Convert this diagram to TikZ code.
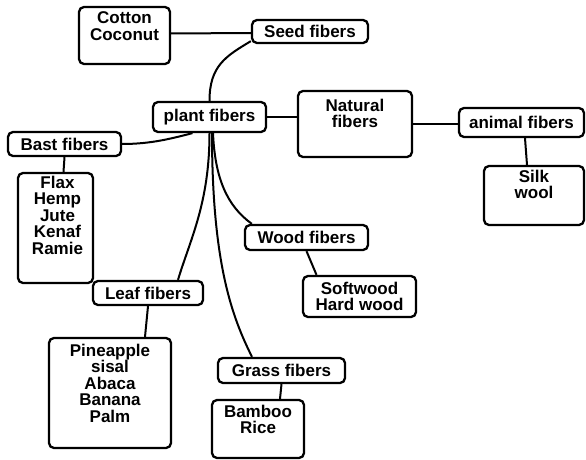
\documentclass[tikz,border=0pt]{standalone}
\usepackage{fontspec}
\setmainfont{Liberation Sans}
\begin{document}
\begin{tikzpicture}[x=1pt,y=-1pt,
  box/.style={draw, line width=2.3pt, rounded corners=5pt, inner sep=0pt,
    font=\fontsize{17pt}{16.5pt}\selectfont\bfseries, align=center},
  toptext/.style={anchor=north, inner sep=0pt, align=center,
    font=\fontsize{17pt}{16.5pt}\selectfont\bfseries},
  link/.style={line width=2pt}]
\useasboundingbox[fill=white] (0,0) rectangle (586,460);
% boxes
\node[box, minimum width=91pt, minimum height=57pt,
  label={[toptext, yshift=-6pt]north:Cotton\\Coconut}] (cotton) at (124.5,35.5) {};
\node[box, minimum width=116pt, minimum height=23pt] (seed) at (310,31.5) {Seed fibers};
\node[box, minimum width=113pt, minimum height=30pt] (plant) at (209.5,117) {plant fibers};
\node[box, minimum width=113pt, minimum height=24pt] (bast) at (64.5,144) {Bast fibers};
\node[box, minimum width=114pt, minimum height=66pt,
  label={[toptext, yshift=-9pt]north:Natural\\fibers}] (natural) at (355,124) {};
\node[box, minimum width=125pt, minimum height=29pt] (animal) at (521.5,122.5) {animal fibers};
\node[box, minimum width=100pt, minimum height=59pt,
  label={[toptext, yshift=-5pt]north:Silk\\wool}] (silk) at (534,195.5) {};
\node[box, minimum width=75pt, minimum height=110pt,
  label={[toptext, yshift=-4pt, xshift=2pt]north:Flax\\Hemp\\Jute\\Kenaf\\Ramie}] (flax) at (55.5,228) {};
\node[box, minimum width=123pt, minimum height=25pt] (wood) at (306.5,237.5) {Wood fibers};
\node[box, minimum width=113pt, minimum height=41pt] (soft) at (359.5,296.5) {Softwood\\Hard wood};
\node[box, minimum width=110pt, minimum height=24pt] (leaf) at (148,293) {Leaf fibers};
\node[box, minimum width=122pt, minimum height=110pt,
  label={[toptext, yshift=-7pt]north:Pineapple\\sisal\\Abaca\\Banana\\Palm}] (pine) at (110,393) {};
\node[box, minimum width=127pt, minimum height=25pt] (grass) at (281.5,370.5) {Grass fibers};
\node[box, minimum width=92pt, minimum height=58pt,
  label={[toptext, yshift=-6pt]north:Bamboo\\Rice}] (bamboo) at (258,429) {};
% connectors
\draw[link] ([yshift=2pt]cotton.east) -- ([yshift=-1.5pt]seed.west);
\draw[link] (plant.north) .. controls +(0,-35) and +(-25,15) .. ([yshift=3pt]seed.south west);
\draw[link] (plant.east) -- (natural.west |- plant.east);
\draw[link] (natural.east) -- (animal.west |- natural.east);
\draw[link] ([xshift=3.5pt]animal.south) -- ([xshift=-7pt]silk.north);
\draw[link] ([xshift=-17pt]plant.south) .. controls +(-20,5) and +(30,0) .. (bast.east);
\draw[link] (bast.south) -- ([xshift=8pt]flax.north);
\draw[link] (plant.south) .. controls +(0,70) and +(12,-40) .. ([xshift=30pt]leaf.north);
\draw[link] (leaf.south) -- ([xshift=35pt]pine.north);
\draw[link] ([xshift=2.5pt]plant.south) .. controls +(0,130) and +(-20,-40) .. ([xshift=-29.5pt]grass.north);
\draw[link] (grass.south) -- ([xshift=22pt]bamboo.north);
\draw[link] ([xshift=3.5pt]plant.south) .. controls +(2,45) and +(-25,-18) .. ([xshift=8pt]wood.north west);
\draw[link] (wood.south) -- ([xshift=-43pt]soft.north);
\end{tikzpicture}
\end{document}
